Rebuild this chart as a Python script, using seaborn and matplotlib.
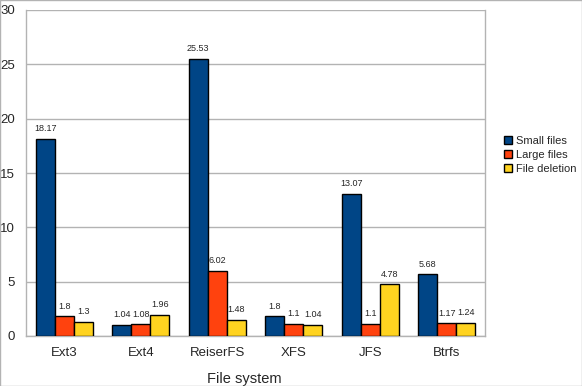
import pandas as pd
import seaborn as sns
import matplotlib.pyplot as plt
from matplotlib.patches import Rectangle

# values
systems = ['Ext3', 'Ext4', 'ReiserFS', 'XFS', 'JFS', 'Btrfs']
small_files = [18.17, 1.04, 25.53, 1.8, 13.07, 5.68]
large_files = [1.8, 1.08, 6.02, 1.1, 1.1, 1.17]
file_deletion = [1.3, 1.96, 1.48, 1.04, 4.78, 1.24]
series = ['Small files', 'Large files', 'File deletion']

df = pd.DataFrame({'system': systems, 'Small files': small_files,
                   'Large files': large_files, 'File deletion': file_deletion})
df = df.melt(id_vars='system', var_name='series', value_name='value')

palette = {'Small files': '#004586', 'Large files': '#ff420e', 'File deletion': '#ffd320'}

sns.set_style('white')
plt.rcParams['font.family'] = ['Liberation Sans', 'DejaVu Sans']

fig = plt.figure(figsize=(5.82, 3.86), dpi=100)
ax = fig.add_axes([26 / 582, 50 / 386, 459 / 582, 326 / 386])
sns.barplot(data=df, x='system', y='value', hue='series', hue_order=series,
            palette=palette, width=0.75, edgecolor='black', linewidth=1,
            saturation=1, ax=ax, zorder=3)

ax.set_ylim(0, 30)
ax.set_xlim(-0.5, len(systems) - 0.5)
ax.set_yticks(range(0, 31, 5))
ax.yaxis.grid(True, color='#b3b3b3', linewidth=1, zorder=0)
ax.set_axisbelow(True)

# category ticks at group boundaries
ax.set_xticks([i - 0.5 for i in range(len(systems) + 1)], minor=True)
ax.tick_params(axis='x', which='minor', length=6, color='#b3b3b3', width=1)
ax.tick_params(axis='x', which='major', length=0, labelsize=9.5, pad=8)
ax.tick_params(axis='y', length=6, color='#b3b3b3', width=1, labelsize=9.5, pad=2)

for s in ['left', 'bottom', 'right']:
    ax.spines[s].set_color('#b3b3b3')
    ax.spines[s].set_linewidth(1)
ax.spines['top'].set_visible(False)

for cont in ax.containers:
    ax.bar_label(cont, labels=[f'{v:g}' for v in cont.datavalues],
                 fontsize=6.5, padding=4)

ax.set_ylabel('')
ax.set_xlabel('File system', fontsize=10.5, labelpad=10)
ax.xaxis.set_label_coords(0.475, -0.11)

ax.legend(title=None, loc='center left', bbox_to_anchor=(1.02, 0.555),
          frameon=False, fontsize=8, handlelength=0.7, handleheight=0.7,
          handletextpad=0.4, labelspacing=0.35)

fig.patches.append(Rectangle((0, 0), 1, 1, transform=fig.transFigure,
                             fill=False, edgecolor='#b3b3b3', linewidth=1))

fig.savefig('out.png', dpi=100)
